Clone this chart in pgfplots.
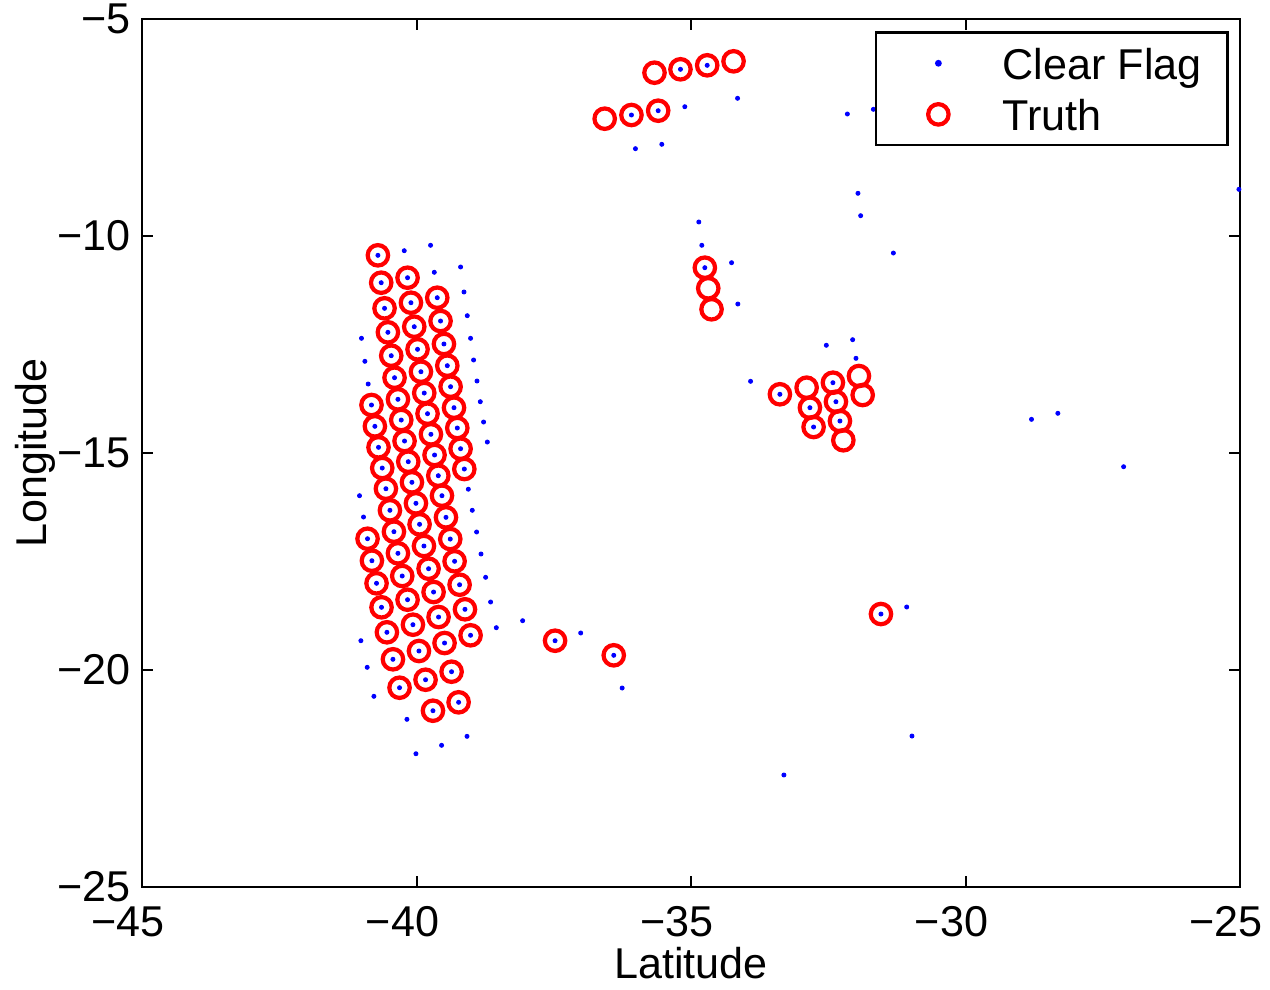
\documentclass[border=0pt]{standalone}
\usepackage{fontspec}
\setmainfont{Liberation Sans}
\usepackage{pgfplots}
\pgfplotsset{compat=1.18}
\newcommand{\lbl}{\fontsize{19.4}{23}\selectfont}
\begin{document}
\begin{tikzpicture}
\begin{axis}[
  scale only axis,
  width=494.1pt, height=390.6pt,
  xmin=-45, xmax=-25, ymin=-25, ymax=-5,
  axis line style={line width=0.9pt},
  every tick/.style={black, line width=0.9pt},
  tick align=inside,
  major tick length=5pt,
  xtick={-45,-40,-35,-30,-25},
  xticklabels={−45,−40,−35,−30,−25},
  ytick={-25,-20,-15,-10,-5},
  yticklabels={−25,−20,−15,−10,−5},
  x tick label style={font=\lbl, anchor=base, yshift=-22.3pt, xshift=-6.3pt},
  y tick label style={font=\lbl, anchor=east, inner sep=0pt, xshift=-5pt},
  xlabel={Latitude},
  ylabel={Longitude},
  xlabel style={font=\lbl, at={(axis description cs:0.5,-0.105)}, anchor=base},
  ylabel style={font=\lbl, at={(axis description cs:-0.087,0.5)}, anchor=base, rotate=0},
  legend style={at={(axis description cs:0.99,0.986)}, anchor=north east,
    draw=black, line width=1.2pt, font=\lbl, fill=white,
    inner xsep=11.7pt, inner ysep=6.6pt, row sep=8.5pt,
    nodes={inner sep=0pt, text height=14.5pt, text depth=0pt},
    /tikz/every odd column/.append style={column sep=12.6pt}},
  legend cell align=left,
  legend image code/.code={\path (0pt,0pt) (31.6pt,0pt);\draw[mark repeat=2,mark phase=2,#1] plot coordinates {(0pt,0pt)(15.8pt,0pt)(31.6pt,0pt)};},
]
\addplot[only marks, mark=*, mark size=0.9pt, color=blue, mark options={fill=blue, draw=blue}] coordinates {
(-40.703,-10.445) (-40.643,-11.076) (-40.582,-11.666) (-40.521,-12.219) (-40.460,-12.758) (-40.400,-13.265) (-40.338,-13.763) (-40.278,-14.240) (-40.218,-14.724) (-40.150,-15.200) (-40.083,-15.675) (-40.010,-16.159) (-39.944,-16.643) (-39.864,-17.143) (-39.780,-17.666) (-39.689,-18.203) (-39.598,-18.779) (-39.489,-19.378) (-39.361,-20.039) (-39.233,-20.744)
(-40.163,-10.961) (-40.101,-11.537) (-40.041,-12.090) (-39.981,-12.611) (-39.919,-13.127) (-39.859,-13.618) (-39.799,-14.094) (-39.737,-14.569) (-39.671,-15.046) (-39.603,-15.523) (-39.536,-15.984) (-39.463,-16.482) (-39.385,-16.982) (-39.306,-17.495) (-39.215,-18.035) (-39.117,-18.601) (-39.015,-19.200)
(-39.622,-11.422) (-39.562,-11.959) (-39.500,-12.488) (-39.439,-12.988) (-39.379,-13.472) (-39.317,-13.956) (-39.257,-14.424) (-39.197,-14.901) (-39.129,-15.369)
(-40.820,-13.894) (-40.758,-14.385) (-40.692,-14.869) (-40.624,-15.346) (-40.557,-15.823) (-40.484,-16.320) (-40.411,-16.813) (-40.338,-17.311) (-40.260,-17.834) (-40.163,-18.380) (-40.065,-18.956) (-39.955,-19.562) (-39.835,-20.224) (-39.700,-20.938)
(-40.892,-16.975) (-40.812,-17.482) (-40.728,-18.002) (-40.637,-18.555) (-40.539,-19.131) (-40.429,-19.753) (-40.309,-20.408)
(-35.192,-6.159) (-34.705,-6.067) (-36.085,-7.212) (-35.598,-7.113)
(-34.748,-10.730)
(-33.381,-13.647) (-32.415,-13.380) (-32.834,-13.956) (-32.360,-13.818) (-32.767,-14.401) (-32.287,-14.263)
(-37.476,-19.325) (-36.407,-19.661) (-31.540,-18.710)
(-40.223,-10.339) (-39.744,-10.214) (-39.676,-10.836) (-39.197,-10.714) (-39.135,-11.290) (-39.075,-11.836) (-39.015,-12.357) (-38.960,-12.857) (-38.898,-13.341) (-38.838,-13.818) (-38.778,-14.286) (-38.710,-14.747)
(-39.056,-15.834) (-38.984,-16.320) (-38.905,-16.820) (-38.825,-17.327) (-38.741,-17.864) (-38.650,-18.433) (-38.546,-19.025)
(-41.002,-12.357) (-40.940,-12.887) (-40.880,-13.410) (-41.038,-15.984) (-40.965,-16.475)
(-41.013,-19.325) (-40.898,-19.938) (-40.776,-20.606) (-40.174,-21.136) (-39.543,-21.735) (-39.080,-21.528) (-40.010,-21.929)
(-38.067,-18.864) (-37.009,-19.147) (-36.254,-20.415)
(-35.113,-7.021) (-34.152,-6.827) (-36.012,-7.988) (-35.532,-7.887)
(-34.858,-9.677) (-34.803,-10.214) (-34.261,-10.615) (-34.147,-11.567)
(-31.910,-9.532) (-31.959,-9.016) (-31.314,-10.392) (-32.152,-7.189) (-31.678,-7.081) (-25.02,-8.924)
(-32.535,-12.518) (-32.056,-12.389) (-31.995,-12.818) (-33.915,-13.348)
(-28.798,-14.224) (-28.318,-14.085) (-27.120,-15.316)
(-31.071,-18.548) (-30.975,-21.521) (-33.308,-22.419)
};
\addlegendentry{Clear Flag}
\addplot[only marks, mark=o, mark size=4.6pt, color=red, mark options={line width=1.9pt, draw=red}] coordinates {
(-40.703,-10.445) (-40.643,-11.076) (-40.582,-11.666) (-40.521,-12.219) (-40.460,-12.758) (-40.400,-13.265) (-40.338,-13.763) (-40.278,-14.240) (-40.218,-14.724) (-40.150,-15.200) (-40.083,-15.675) (-40.010,-16.159) (-39.944,-16.643) (-39.864,-17.143) (-39.780,-17.666) (-39.689,-18.203) (-39.598,-18.779) (-39.489,-19.378) (-39.361,-20.039) (-39.233,-20.744)
(-40.163,-10.961) (-40.101,-11.537) (-40.041,-12.090) (-39.981,-12.611) (-39.919,-13.127) (-39.859,-13.618) (-39.799,-14.094) (-39.737,-14.569) (-39.671,-15.046) (-39.603,-15.523) (-39.536,-15.984) (-39.463,-16.482) (-39.385,-16.982) (-39.306,-17.495) (-39.215,-18.035) (-39.117,-18.601) (-39.015,-19.200)
(-39.622,-11.422) (-39.562,-11.959) (-39.500,-12.488) (-39.439,-12.988) (-39.379,-13.472) (-39.317,-13.956) (-39.257,-14.424) (-39.197,-14.901) (-39.129,-15.369)
(-40.820,-13.894) (-40.758,-14.385) (-40.692,-14.869) (-40.624,-15.346) (-40.557,-15.823) (-40.484,-16.320) (-40.411,-16.813) (-40.338,-17.311) (-40.260,-17.834) (-40.163,-18.380) (-40.065,-18.956) (-39.955,-19.562) (-39.835,-20.224) (-39.700,-20.938)
(-40.892,-16.975) (-40.812,-17.482) (-40.728,-18.002) (-40.637,-18.555) (-40.539,-19.131) (-40.429,-19.753) (-40.309,-20.408)
(-35.665,-6.237) (-35.192,-6.159) (-34.705,-6.067) (-34.225,-5.975) (-36.572,-7.297) (-36.085,-7.212) (-35.598,-7.113)
(-34.748,-10.730) (-34.686,-11.205) (-34.626,-11.689)
(-33.381,-13.647) (-32.894,-13.495) (-32.415,-13.380) (-31.941,-13.226) (-32.834,-13.956) (-32.360,-13.818) (-31.873,-13.664) (-32.767,-14.401) (-32.287,-14.263) (-32.225,-14.707)
(-37.476,-19.325) (-36.407,-19.661) (-31.540,-18.710)
};
\addlegendentry{Truth}
\end{axis}
\pgfresetboundingbox
\path[use as bounding box] (-63.9pt,-45.9pt) rectangle (507.6pt,399.15pt);
\end{tikzpicture}
\end{document}
